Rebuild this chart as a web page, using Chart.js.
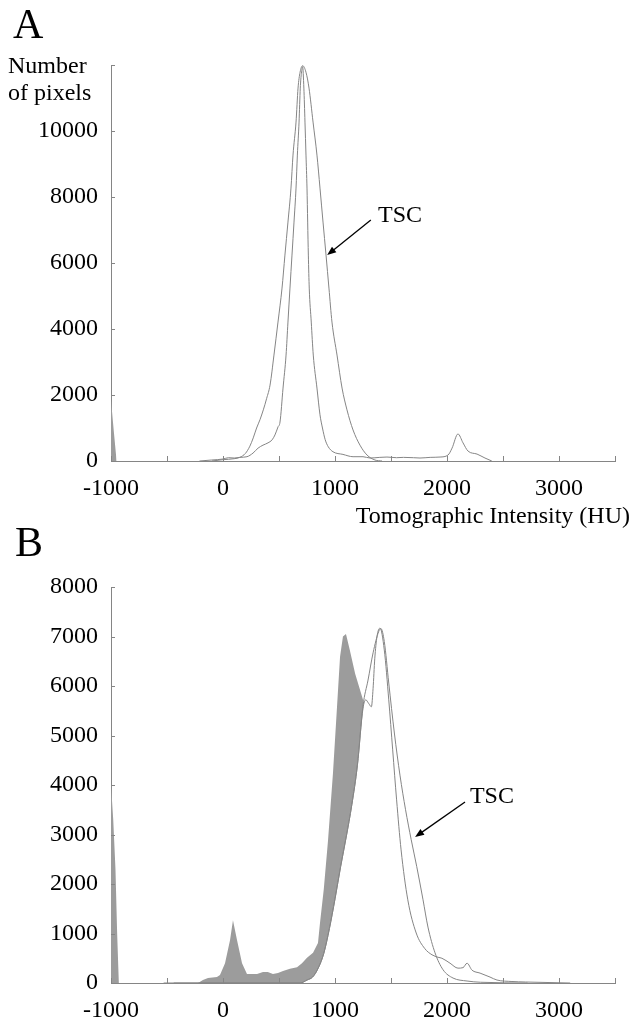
<!DOCTYPE html>
<html>
<head>
<meta charset="utf-8">
<script src="https://cdn.jsdelivr.net/npm/chart.js@4/dist/chart.umd.min.js"></script>
<style>
  body { margin: 0; background: #fff; }
  .panel { position: absolute; left: 0; width: 634px; }
</style>
</head>
<body>
<div class="panel" style="top:0;height:540px"><canvas id="chartA"></canvas></div>
<div class="panel" style="top:520px;height:503px"><canvas id="chartB"></canvas></div>
<script>
// Panel A - HU values and pixel counts
const aInnerHU = [-210, -100, 0, 50, 100, 150, 214, 268, 313, 357, 402, 438, 464, 491, 509, 536, 563, 580, 598, 616, 634, 652, 664, 679, 690, 700, 711, 722, 732, 741, 750, 756, 762, 770, 788, 806, 839, 866, 888, 912, 940, 982, 1071, 1161, 1250, 1313, 1400, 1464, 1550, 1612, 1700, 1759, 1850, 1938, 2009, 2045, 2098, 2143, 2188, 2268, 2339, 2400];
const aInner = [0, 30, 60, 100, 90, 110, 130, 240, 390, 480, 550, 640, 790, 1030, 1180, 2210, 3210, 4210, 5240, 6240, 7240, 8270, 9270, 10270, 11300, 11750, 11950, 11300, 10270, 9270, 8270, 7240, 6240, 5240, 4210, 3210, 2210, 1400, 1000, 650, 430, 280, 200, 130, 130, 90, 110, 120, 100, 110, 100, 90, 110, 120, 180, 390, 820, 550, 300, 210, 90, 0];
const aTscHU = [-100, 0, 100, 150, 200, 240, 270, 300, 330, 360, 390, 420, 455, 491, 527, 553, 580, 607, 625, 652, 670, 688, 711, 741, 768, 804, 839, 866, 893, 920, 946, 973, 1018, 1063, 1107, 1161, 1223, 1286, 1357, 1420];
const aTsc = [0, 40, 70, 110, 230, 450, 700, 1000, 1250, 1550, 1900, 2300, 3210, 4210, 5240, 6240, 7240, 8270, 9270, 10270, 11300, 11780, 11980, 11780, 11300, 10270, 9270, 8270, 7240, 6240, 5240, 4210, 3210, 2210, 1550, 940, 480, 180, 30, 0];
const aGrayHU = [-1000, -975, -950];
const aGray = [1840, 900, 0];

// Panel B
const bInnerHU = [-530, 690, 750, 800, 850, 900, 950, 1000, 1050, 1100, 1150, 1200, 1250, 1275, 1300, 1325, 1340, 1355, 1375, 1402, 1440, 1480, 1515, 1550, 1590, 1650, 1725, 1800, 1866, 1920, 1955, 2027, 2098, 2143, 2179, 2223, 2295, 2384, 2446, 2580, 2700, 3100];
const bInner = [0, 0, 60, 120, 300, 600, 1100, 1700, 2350, 2950, 3600, 4400, 5550, 5720, 5650, 5580, 5950, 6550, 7000, 7170, 6730, 5720, 4710, 3700, 2690, 1680, 1010, 700, 570, 520, 500, 400, 300, 310, 400, 260, 200, 120, 60, 30, 20, 0];
const bTscHU = [-440, 690, 750, 800, 850, 900, 950, 1000, 1050, 1100, 1150, 1200, 1250, 1295, 1340, 1390, 1410, 1440, 1480, 1530, 1580, 1630, 1680, 1730, 1786, 1830, 1893, 1964, 2054, 2179, 2300, 2720];
const bTsc = [0, 0, 60, 120, 300, 600, 1100, 1700, 2350, 2950, 3600, 4400, 5600, 6120, 6670, 7100, 7160, 6900, 6060, 5050, 4200, 3500, 2900, 2350, 1680, 1130, 610, 270, 100, 40, 15, 0];
const bGrayHU = [-1000, -980, -960, -945, -930, -223, -179, -134, -54, -27, 18, 63, 89, 125, 170, 214, 304, 357, 400, 446, 491, 536, 598, 661, 705, 750, 804, 848, 866, 900, 938, 982, 1018, 1045, 1071, 1098, 1130, 1180, 1250, 1300, 1400, 1500, 1600, 1700, 1800];
const bGray = [4000, 3300, 2300, 1000, 0, 0, 60, 100, 120, 160, 400, 870, 1270, 870, 400, 180, 180, 220, 220, 180, 200, 240, 290, 320, 400, 510, 610, 810, 1210, 1900, 2890, 4240, 5580, 6590, 7000, 7050, 6750, 6250, 5720, 5000, 4000, 2500, 1000, 300, 0];

const xTicksHU = [-1000, 0, 1000, 2000, 3000];

const lineGray = '#858585';
const fillGray = '#9c9c9c';
const serif = '"Liberation Serif", "Times New Roman", serif';

Chart.defaults.font.family = serif;
Chart.defaults.font.size = 24;
Chart.defaults.color = '#000';

function pts(xs, ys) {
    return xs.map((x, i) => ({ x: x, y: ys[i] }));
}

function curve(xs, ys) {
    return {
        data: pts(xs, ys),
        borderColor: lineGray,
        borderWidth: 1,
        backgroundColor: '#fff',
        fill: 'origin',
        pointRadius: 0,
        cubicInterpolationMode: 'monotone'
    };
}

function grayArea(xs, ys) {
    return {
        data: pts(xs, ys),
        borderWidth: 0,
        borderColor: fillGray,
        backgroundColor: fillGray,
        fill: 'origin',
        pointRadius: 0,
        tension: 0
    };
}

// small inward tick marks on both axes
const inwardTicks = {
    id: 'inwardTicks',
    afterDatasetsDraw(chart) {
        const ctx = chart.ctx;
        const xs = chart.scales.x;
        const ys = chart.scales.y;
        const area = chart.chartArea;
        ctx.save();
        ctx.strokeStyle = lineGray;
        ctx.lineWidth = 1;
        ctx.beginPath();
        xs.ticks.forEach(t => {
            const px = Math.round(xs.getPixelForValue(t.value)) + 0.5;
            ctx.moveTo(px, area.bottom);
            ctx.lineTo(px, area.bottom - 5);
        });
        ys.ticks.forEach(t => {
            const py = Math.round(ys.getPixelForValue(t.value)) + 0.5;
            ctx.moveTo(area.left, py);
            ctx.lineTo(area.left + 4, py);
        });
        ctx.stroke();
        ctx.restore();
    }
};

// panel letters, axis titles and the TSC arrow
const notes = {
    id: 'notes',
    afterDraw(chart, args, opts) {
        const ctx = chart.ctx;
        const xs = chart.scales.x;
        const ys = chart.scales.y;
        ctx.save();
        ctx.fillStyle = '#000';
        ctx.textBaseline = 'alphabetic';
        (opts.texts || []).forEach(t => {
            ctx.font = t.size + 'px ' + serif;
            ctx.textAlign = t.align || 'left';
            ctx.fillText(t.text, t.x, t.y);
        });
        const a = opts.arrow;
        if (a) {
            const x1 = xs.getPixelForValue(a.from[0]), y1 = ys.getPixelForValue(a.from[1]);
            const x2 = xs.getPixelForValue(a.to[0]), y2 = ys.getPixelForValue(a.to[1]);
            const ang = Math.atan2(y2 - y1, x2 - x1);
            ctx.strokeStyle = '#000';
            ctx.lineWidth = 1.3;
            ctx.beginPath();
            ctx.moveTo(x1, y1);
            ctx.lineTo(x2 - 5 * Math.cos(ang), y2 - 5 * Math.sin(ang));
            ctx.stroke();
            ctx.beginPath();
            ctx.moveTo(x2, y2);
            ctx.lineTo(x2 - 9 * Math.cos(ang) + 3.5 * Math.sin(ang), y2 - 9 * Math.sin(ang) - 3.5 * Math.cos(ang));
            ctx.lineTo(x2 - 9 * Math.cos(ang) - 3.5 * Math.sin(ang), y2 - 9 * Math.sin(ang) + 3.5 * Math.cos(ang));
            ctx.closePath();
            ctx.fill();
            ctx.font = '24px ' + serif;
            ctx.textAlign = 'left';
            ctx.fillText('TSC', xs.getPixelForValue(a.label[0]), ys.getPixelForValue(a.label[1]));
        }
        ctx.restore();
    }
};

function makeChart(id, cfg) {
    const canvasH = cfg.canvasH;
    return new Chart(document.getElementById(id), {
        type: 'line',
        data: {
            datasets: [curve(cfg.innerHU, cfg.inner), curve(cfg.tscHU, cfg.tsc), grayArea(cfg.grayHU, cfg.gray)]
        },
        options: {
            responsive: true,
            maintainAspectRatio: false,
            animation: false,
            layout: { padding: { top: cfg.top, right: 19, left: 0, bottom: 0 } },
            scales: {
                x: {
                    type: 'linear',
                    min: -1000,
                    max: 3500,
                    grid: { display: false, drawTicks: false },
                    border: { color: lineGray, width: 1 },
                    ticks: {
                        stepSize: 500,
                        padding: 13,
                        maxRotation: 0,
                        autoSkip: false,
                        callback: v => xTicksHU.includes(v) ? String(v) : ''
                    },
                    afterFit: s => { s.height = canvasH - cfg.bottom; }
                },
                y: {
                    min: 0,
                    max: cfg.yMax,
                    grid: { display: false, drawTicks: false },
                    border: { color: lineGray, width: 1 },
                    ticks: {
                        stepSize: cfg.yStep,
                        padding: 13,
                        callback: v => cfg.yLabels.includes(v) ? String(v) : ''
                    },
                    afterFit: s => { s.width = 111; }
                }
            },
            plugins: {
                legend: { display: false },
                tooltip: { enabled: false },
                filler: { drawTime: 'beforeDatasetsDraw' },
                notes: { texts: cfg.texts, arrow: cfg.arrow }
            }
        },
        plugins: [inwardTicks, notes]
    });
}

makeChart('chartA', {
    canvasH: 540, top: 65, bottom: 461,
    innerHU: aInnerHU, inner: aInner, tscHU: aTscHU, tsc: aTsc, grayHU: aGrayHU, gray: aGray,
    yMax: 12000, yStep: 2000, yLabels: [0, 2000, 4000, 6000, 8000, 10000],
    texts: [
        { text: 'A', x: 13, y: 38, size: 42 },
        { text: 'Number', x: 8, y: 73, size: 24 },
        { text: 'of pixels', x: 8, y: 100, size: 24 },
        { text: 'Tomographic Intensity (HU)', x: 630, y: 523, size: 24, align: 'right' }
    ],
    arrow: { from: [1320, 7300], to: [930, 6240], label: [1384, 7240] }
});

makeChart('chartB', {
    canvasH: 503, top: 67, bottom: 463,
    innerHU: bInnerHU, inner: bInner, tscHU: bTscHU, tsc: bTsc, grayHU: bGrayHU, gray: bGray,
    yMax: 8000, yStep: 1000, yLabels: [0, 1000, 2000, 3000, 4000, 5000, 6000, 7000, 8000],
    texts: [
        { text: 'B', x: 15, y: 36, size: 42 }
    ],
    arrow: { from: [2161, 3657], to: [1715, 2950], label: [2205, 3636] }
});
</script>
</body>
</html>
